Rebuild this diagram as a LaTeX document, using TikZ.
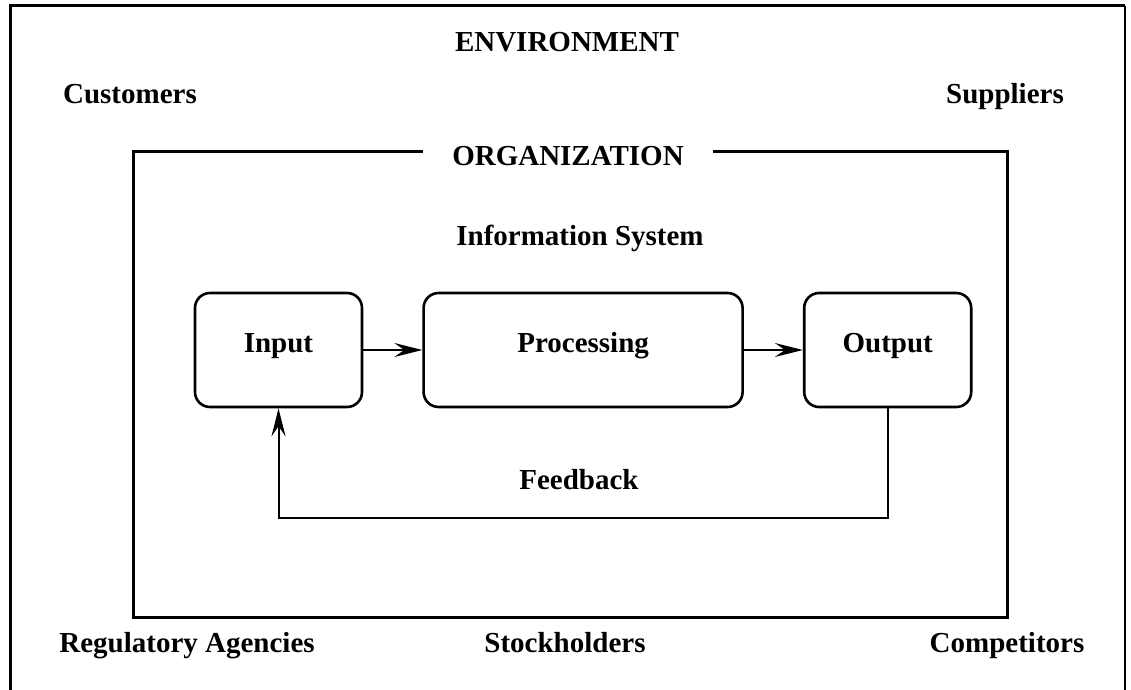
\documentclass[tikz,border=0pt]{standalone}
\usepackage{fontspec}
\setmainfont{Liberation Serif}
\usepackage{tikz}
\usetikzlibrary{positioning, arrows.meta}

\begin{document}
\begin{tikzpicture}[
    x=0.5pt, y=-0.5pt,
    font=\fontsize{14.5}{17}\selectfont\bfseries,
    node distance=29.5pt,
    stage/.style={
      draw, line width=1.3pt, rounded corners=7.5pt,
      minimum width=83.5pt, minimum height=57pt,
      text height=10pt, text depth=8pt, align=center
    },
    lbl/.style={anchor=base, inner sep=0pt},
    frame/.style={line width=1.5pt},
    arr/.style={-{Stealth[length=14pt,width=7pt,inset=5pt]}, line width=1pt}
  ]
  \useasboundingbox (0,0) rectangle (1131,690);
  \fill[white] (0,0) rectangle (1131,690);

  % environment border, open at the bottom
  \draw[frame] (10,690) -- (10,6) -- (1125,6);
  \draw[line width=0.6pt] (1125,6) -- (1125,690);
  \node[lbl] (env) at (567,52) {ENVIRONMENT};
  \node[lbl] (cust) at (130,104) {Customers};
  \node[lbl] (supp) at (1005,104) {Suppliers};

  % organization frame, broken at the top for its title
  \node[lbl, inner xsep=14.5pt] (org) at (568,166) {ORGANIZATION};
  \coordinate (orgNW) at (133,152);
  \coordinate (orgSE) at (1007,617);
  \draw[frame] (org.west |- orgNW) -- (orgNW) |- (orgSE) |- (org.east |- orgNW);
  \node[lbl] (infosys) at (580,246) {Information System};

  % the three stages
  \node[stage] (input) at (278.5,350) {Input};
  \node[stage, minimum width=159.5pt, right=of input] (proc) {Processing};
  \node[stage, right=of proc] (output) {Output};
  \foreach \a/\b in {input/proc, proc/output}{\draw[arr] (\a) -- (\b);}

  % feedback loop under the stages
  \draw[arr] (output.south) -- ++(0,110) -| (input.south);
  \node[lbl] (fb) at (579,489) {Feedback};

  \node[lbl] (reg) at (187,652) {Regulatory Agencies};
  \node[lbl] (stock) at (565,652) {Stockholders};
  \node[lbl] (comp) at (1007,652) {Competitors};
\end{tikzpicture}
\end{document}
